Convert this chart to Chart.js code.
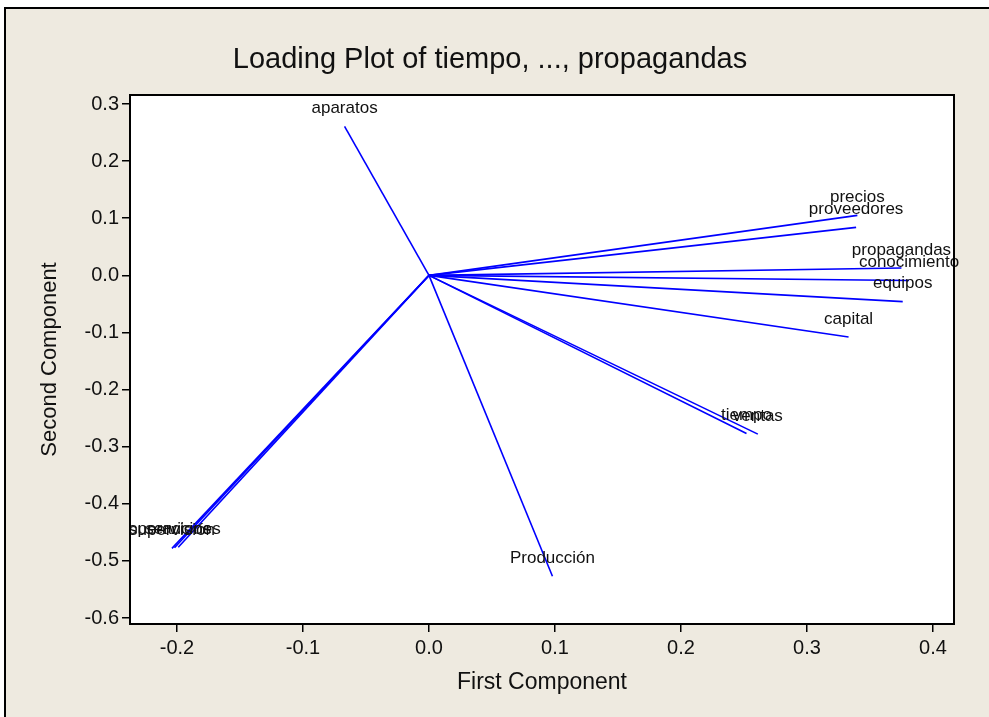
<!DOCTYPE html>
<html>
<head>
<meta charset="utf-8">
<script src="https://cdn.jsdelivr.net/npm/chart.js@4.4.1/dist/chart.umd.min.js"></script>
<style>
  html, body { margin: 0; padding: 0; background: #fff; }
  #wrap { width: 989px; height: 717px; position: relative; }
</style>
</head>
<body>
<div id="wrap"><canvas id="loadingPlot"></canvas></div>
<script>
// variables del PCA y sus cargas (1a y 2a componente)
const variables = ['tiempo', 'ventas', 'aparatos', 'precios', 'proveedores', 'propagandas',
  'conocimiento', 'equipos', 'capital', 'Producción', 'supervisión', 'operaciones', 'servicios'];
const firstComp = [0.252, 0.261, -0.067, 0.340, 0.339, 0.375, 0.381, 0.376, 0.333, 0.098, -0.204, -0.202, -0.199];
const secondComp = [-0.277, -0.278, 0.261, 0.105, 0.084, 0.013, -0.009, -0.046, -0.108, -0.527, -0.478, -0.477, -0.476];
const xTicks = [-0.2, -0.1, 0.0, 0.1, 0.2, 0.3, 0.4];
const yTicks = [0.3, 0.2, 0.1, 0.0, -0.1, -0.2, -0.3, -0.4, -0.5, -0.6];

const FONT = '"Liberation Sans", Arial, sans-serif';

function fmt(v) {
    if (Math.abs(v) < 1e-9) return '0.0';
    return v.toFixed(1);
}

// fondo, marco y titulo estilo Minitab
const framePlugin = {
    id: 'frame',
    beforeDraw(chart) {
        const ctx = chart.ctx;
        const a = chart.chartArea;
        ctx.save();
        ctx.fillStyle = '#ffffff';
        ctx.fillRect(0, 0, chart.width, chart.height);
        ctx.fillStyle = '#eeeae0';
        ctx.fillRect(5, 8, chart.width, chart.height);
        ctx.strokeStyle = '#000';
        ctx.lineWidth = 2;
        ctx.beginPath();
        ctx.moveTo(5, chart.height);
        ctx.lineTo(5, 8);
        ctx.lineTo(chart.width, 8);
        ctx.stroke();
        ctx.fillStyle = '#ffffff';
        ctx.fillRect(a.left, a.top, a.right - a.left, a.bottom - a.top);
        ctx.restore();
    },
    afterDraw(chart) {
        const ctx = chart.ctx;
        const a = chart.chartArea;
        ctx.save();
        ctx.strokeStyle = '#000';
        ctx.lineWidth = 2;
        ctx.strokeRect(a.left, a.top, a.right - a.left, a.bottom - a.top);
        ctx.fillStyle = '#111';
        ctx.font = '29px ' + FONT;
        ctx.textAlign = 'center';
        ctx.textBaseline = 'middle';
        ctx.fillText('Loading Plot of tiempo, ..., propagandas', 490, 60);
        ctx.restore();
    }
};

// nombres de las variables encima del extremo de cada vector
const labelPlugin = {
    id: 'varLabels',
    afterDatasetsDraw(chart) {
        const ctx = chart.ctx;
        const xs = chart.scales.x;
        const ys = chart.scales.y;
        ctx.save();
        ctx.font = '17px ' + FONT;
        ctx.fillStyle = '#111';
        ctx.textAlign = 'center';
        ctx.textBaseline = 'middle';
        variables.forEach((name, i) => {
            const px = xs.getPixelForValue(firstComp[i]);
            const py = ys.getPixelForValue(secondComp[i]);
            ctx.fillText(name, px, py - 18);
        });
        ctx.restore();
    }
};

const datasets = variables.map((name, i) => ({
    label: name,
    data: [{ x: 0, y: 0 }, { x: firstComp[i], y: secondComp[i] }],
    showLine: true,
    borderColor: '#0000ff',
    borderWidth: 1.6,
    pointRadius: 0,
    fill: false
}));

new Chart(document.getElementById('loadingPlot'), {
    type: 'scatter',
    data: { datasets: datasets },
    options: {
        responsive: true,
        maintainAspectRatio: false,
        animation: false,
        layout: { padding: { top: 95, right: 35, left: 0, bottom: 0 } },
        plugins: {
            legend: { display: false },
            tooltip: { enabled: false }
        },
        scales: {
            x: {
                type: 'linear',
                min: -0.2373,
                max: 0.4167,
                afterFit(scale) { scale.height = 93; },
                afterBuildTicks(scale) { scale.ticks = xTicks.map(v => ({ value: v })); },
                border: { display: false },
                grid: { drawOnChartArea: false, drawTicks: true, tickLength: 8, color: '#000', lineWidth: 1.5 },
                ticks: {
                    color: '#111',
                    font: { family: FONT, size: 20 },
                    padding: 4,
                    maxRotation: 0,
                    callback: v => fmt(v)
                },
                title: {
                    display: true,
                    text: 'First Component',
                    color: '#111',
                    font: { family: FONT, size: 23 },
                    padding: { top: 0, bottom: 21 }
                }
            },
            y: {
                type: 'linear',
                min: -0.6105,
                max: 0.3158,
                afterFit(scale) { scale.width = 130; },
                afterBuildTicks(scale) { scale.ticks = yTicks.map(v => ({ value: v })); },
                border: { display: false },
                grid: { drawOnChartArea: false, drawTicks: true, tickLength: 8, color: '#000', lineWidth: 1.5 },
                ticks: {
                    color: '#111',
                    font: { family: FONT, size: 20 },
                    padding: 3,
                    callback: v => fmt(v)
                },
                title: {
                    display: true,
                    text: 'Second Component',
                    color: '#111',
                    font: { family: FONT, size: 22 },
                    padding: { top: 37, bottom: 0 }
                }
            }
        }
    },
    plugins: [framePlugin, labelPlugin]
});
</script>
</body>
</html>
